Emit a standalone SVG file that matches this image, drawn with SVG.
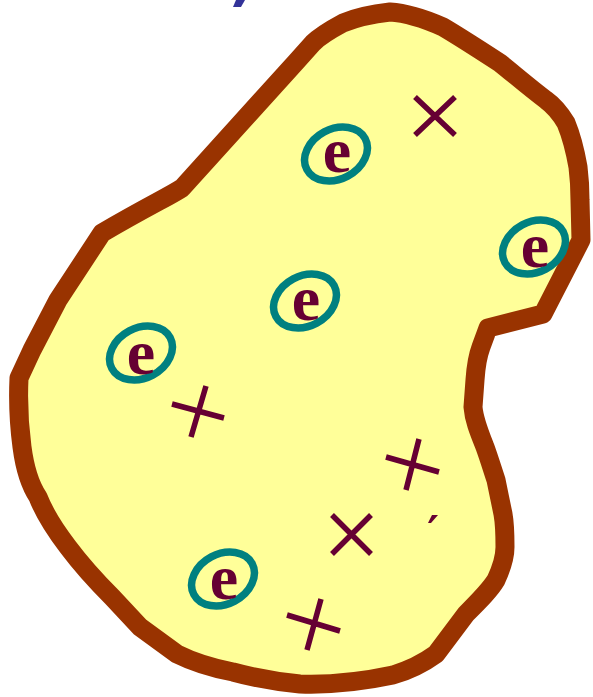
<svg xmlns="http://www.w3.org/2000/svg" width="593" height="697" viewBox="0 0 593 697">
<style>
.blob{fill:#FFFF99;stroke:#993300;stroke-width:19;stroke-linejoin:round}
.ring{fill:none;stroke:#008080;stroke-width:7.5}
.e{font-family:"Liberation Serif","Times New Roman",serif;font-weight:bold;font-size:64px;fill:#660033;text-anchor:middle}
.mark{stroke:#660033;stroke-width:5.5;fill:none}
</style>
<rect width="593" height="697" fill="#FFFFFF"/>
<polygon id="blue-mark" points="236,0 245,0 241,7 233,7" fill="#333399"/>
<g id="region">
<path class="blob" d="M390,12 C372,14 355,18 343,23 C330,30 320,36 313,43 L296,62 L182,188 C170,196 150,205 102,233 L58,300 L32,350 L19,378 C18,400 19,425 22,447 C25,470 30,485 38,497 C45,515 55,530 68,547 C80,563 95,580 112,597 L140,627 L177,654 C195,663 212,668 233,672 C255,678 278,682 300,684 C330,685 365,681 393,675 C410,670 425,662 436,654 L466,614 C480,600 490,590 496,580 C503,565 505,555 505,547 C505,535 505,525 503,514 L496,480 C492,468 489,458 485,447 C479,432 474,420 473,407 L475,380 C476,365 478,355 481,347 L488,328 L543,314 L581,240 L580,200 C580,185 579,175 578,167 C575,150 571,135 566,123 C560,113 553,105 546,100 C530,88 515,75 500,63 C480,50 460,37 443,27 C425,19 407,13 390,12 Z"/>
</g>
<g id="electron-1"><ellipse class="ring" cx="336" cy="154" rx="33" ry="25" transform="rotate(-28 336 154)"/><text class="e" x="337" y="172">e</text></g>
<g id="electron-2"><ellipse class="ring" cx="534" cy="247" rx="33" ry="25" transform="rotate(-28 534 247)"/><text class="e" x="535" y="267">e</text></g>
<g id="electron-3"><ellipse class="ring" cx="305" cy="301" rx="33" ry="25" transform="rotate(-28 305 301)"/><text class="e" x="306" y="320">e</text></g>
<g id="electron-4"><ellipse class="ring" cx="141" cy="353" rx="33" ry="25" transform="rotate(-28 141 353)"/><text class="e" x="141" y="374">e</text></g>
<g id="electron-5"><ellipse class="ring" cx="223" cy="579" rx="33" ry="25" transform="rotate(-28 223 579)"/><text class="e" x="224" y="599">e</text></g>
<g id="cross-1"><path class="mark" d="M415,97 L455,135 M455,97 L415,135"/></g>
<g id="plus-1"><path class="mark" d="M206,386 L191,437 M172,404 L224,418"/></g>
<g id="plus-2"><path class="mark" d="M419,439 L406,490 M386,457 L439,472"/></g>
<g id="cross-2"><path class="mark" d="M332,515 L371,554 M371,515 L332,554"/></g>
<g id="plus-3"><path class="mark" d="M321,599 L307,650 M287,615 L340,631"/></g>
<polygon id="tick" points="432,515 438,515 431,523 428,523" fill="#660033"/>
<g id="connectors"></g>
</svg>
